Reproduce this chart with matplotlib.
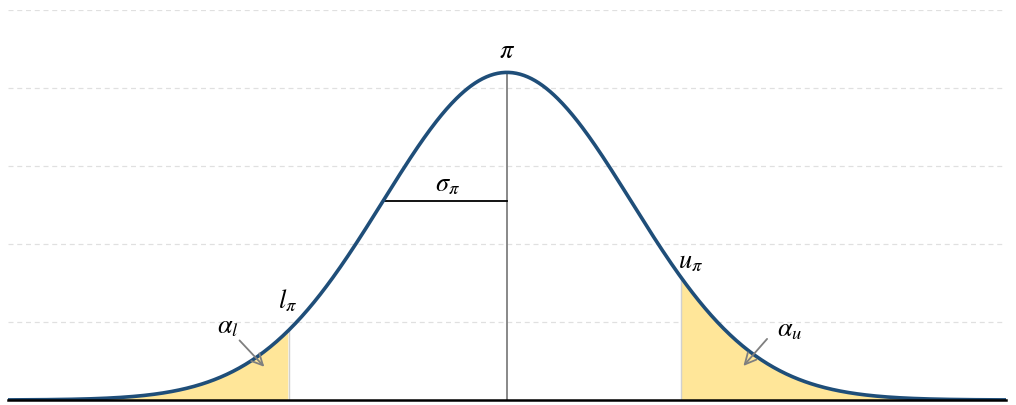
import numpy as np
import matplotlib.pyplot as plt

# curve parameters (x in sigma units)
peak = 0.42
lower_bound = -1.76
upper_bound = 1.40
x_range = (-4.02, 4.02)
grid_levels = [0.1, 0.2, 0.3, 0.4, 0.5]

plt.rcParams['mathtext.fontset'] = 'stix'

fig = plt.figure(figsize=(10.16, 4.05), dpi=100)
ax = fig.add_axes([8 / 1016, 5 / 405, 998 / 1016, 390 / 405])

x = np.linspace(x_range[0], x_range[1], 800)
y = peak * np.exp(-x ** 2 / 2)

for g in grid_levels:
    ax.axhline(g, color='#e0e0e0', lw=0.9, ls=(0, (4, 3)), zorder=0)

# shaded tails
ml = x <= lower_bound
ax.fill_between(x[ml], 0, y[ml], color='#FFE699', lw=0, zorder=1)
mu = x >= upper_bound
ax.fill_between(x[mu], 0, y[mu], color='#FFE699', lw=0, zorder=1)
yl = peak * np.exp(-lower_bound ** 2 / 2)
yu = peak * np.exp(-upper_bound ** 2 / 2)
ax.plot([lower_bound, lower_bound], [0, yl], color='#d0d0d0', lw=1, zorder=2)
ax.plot([upper_bound, upper_bound], [0, yu], color='#d0d0d0', lw=1, zorder=2)

# center line and sigma
ax.plot([0, 0], [0, peak], color='#7f7f7f', lw=1.3, zorder=2)
ys = peak * np.exp(-0.5)
ax.plot([-1, 0], [ys, ys], color='black', lw=1.3, zorder=2)

ax.plot(x, y, color='#1F4E79', lw=2.6, zorder=3)
ax.axhline(0, color='black', lw=1.8, zorder=4, clip_on=False)

fs = 19
ax.text(0, 0.447, r'$\pi$', ha='center', va='center', fontsize=fs)
ax.text(-0.48, 0.277, r'$\sigma_\pi$', ha='center', va='center', fontsize=fs)
ax.text(-1.77, 0.127, r'$l_\pi$', ha='center', va='center', fontsize=fs)
ax.text(1.48, 0.178, r'$u_\pi$', ha='center', va='center', fontsize=fs)
ax.text(-2.25, 0.094, r'$\alpha_l$', ha='center', va='center', fontsize=fs)
ax.text(2.28, 0.090, r'$\alpha_u$', ha='center', va='center', fontsize=fs)

arrow = dict(arrowstyle='->', color='#7f7f7f', lw=1.3, mutation_scale=20)
ax.annotate('', xy=(-1.94, 0.040), xytext=(-2.17, 0.079), arrowprops=arrow, zorder=5)
ax.annotate('', xy=(1.89, 0.041), xytext=(2.11, 0.081), arrowprops=arrow, zorder=5)

ax.set_xlim(*x_range)
ax.set_ylim(0, 0.5)
ax.set_xticks([])
ax.set_yticks([])
for s in ax.spines.values():
    s.set_visible(False)

fig.savefig('out.png', dpi=100)
